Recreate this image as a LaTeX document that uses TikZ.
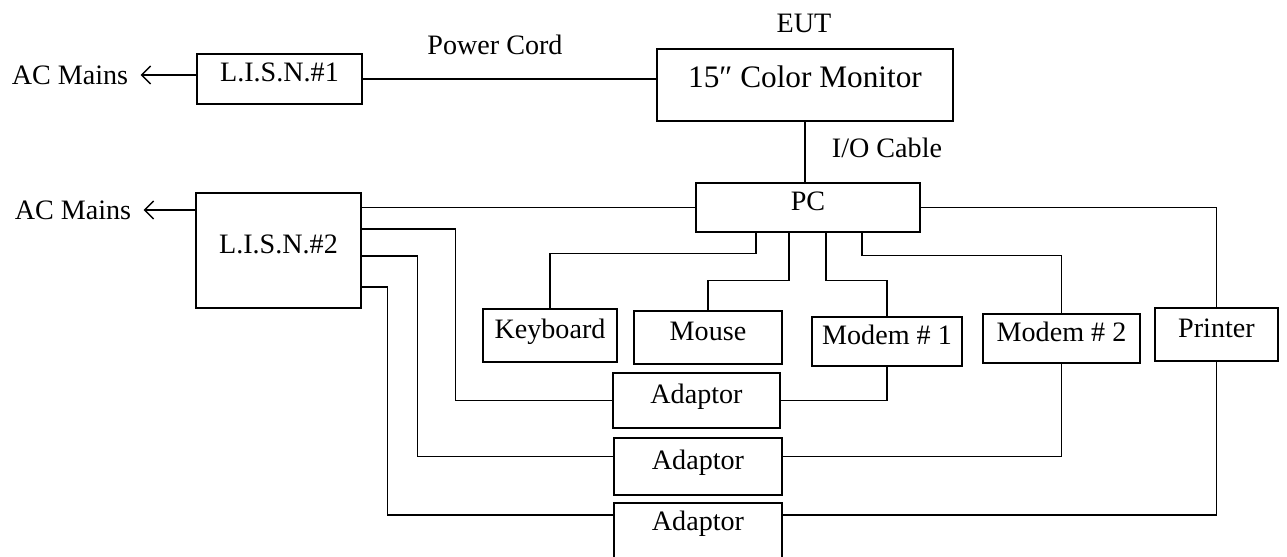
\documentclass[tikz,border=0pt]{standalone}
\usepackage{fontspec}
\setmainfont{Liberation Serif}
\usetikzlibrary{arrows.meta}

\begin{document}
\begin{tikzpicture}[
    every node/.style={font=\fontsize{8}{10}\selectfont},
    unit/.style={draw, line width=0.4pt, inner sep=0pt, text height=0.7em, text depth=0.55em},
    wire/.style={line width=0.4pt},
    mains/.style={wire, -{Straight Barb[length=0.9mm, width=1.8mm]}}
]

    % Fix the canvas to the proportions of the image
    \clip (0,0) rectangle (12.87,5.57);

    % Mains side: the two L.I.S.N. boxes and the AC Mains labels
    \node[unit, minimum width=1.65cm, minimum height=0.50cm] (lisn1) at (2.795,4.78) {L.I.S.N.\#1};
    \node[unit, minimum width=1.65cm, minimum height=1.15cm] (lisn2) at (2.785,3.065) {L.I.S.N.\#2};
    \node (ac1) at (0.70,4.82) {AC Mains};
    \node (ac2) at (0.73,3.47) {AC Mains};

    % The EUT and the PC
    \node (eut) at (8.04,5.34) {EUT};
    \node[unit, minimum width=2.96cm, minimum height=0.72cm, font=\fontsize{8.9}{10}\selectfont] (monitor) at (8.05,4.72) {15″ Color Monitor};
    \node[unit, minimum width=2.24cm, minimum height=0.49cm] (pc) at (8.08,3.495) {PC};

    % Peripherals in a row below the PC
    \node[unit, minimum width=1.34cm, minimum height=0.53cm] (kbd) at (5.50,2.215) {Keyboard};
    \node[unit, minimum width=1.48cm, minimum height=0.53cm] (mouse) at (7.08,2.195) {Mouse};
    \node[unit, minimum width=1.50cm, minimum height=0.49cm] (modem1) at (8.87,2.155) {Modem \# 1};
    \node[unit, minimum width=1.57cm, minimum height=0.49cm] (modem2) at (10.615,2.185) {Modem \# 2};
    \node[unit, minimum width=1.23cm, minimum height=0.53cm] (printer) at (12.165,2.225) {Printer};

    % The three adaptors, the last one runs off the bottom edge
    \node[unit, minimum width=1.67cm, minimum height=0.55cm] (adapt1) at (6.965,1.565) {Adaptor};
    \node[unit, minimum width=1.68cm, minimum height=0.57cm] (adapt2) at (6.98,0.905) {Adaptor};
    \node[unit, minimum width=1.68cm, minimum height=0.60cm, text depth=0.82em] (adapt3) at (6.98,0.24) {Adaptor};

    % Cable labels
    \node (cord) at (4.95,5.12) {Power Cord};
    \node (io) at (8.87,4.09) {I/O Cable};

    % Mains arrows
    \draw[mains] (lisn1.west |- ac1.east) -- (ac1.east);
    \draw[mains] (ac2.east -| lisn2.west) -- (ac2.east);

    % Power cord and I/O cable
    \draw[wire] (lisn1.east) -- (lisn1.east -| monitor.west);
    \draw[wire] (monitor.south) -- (monitor.south |- pc.north);

    % PC to the peripherals
    \draw[wire] ([xshift=-5.2mm]pc.south) -- ++(0,-0.21) -| (kbd.north);
    \draw[wire] ([xshift=-1.9mm]pc.south) -- ++(0,-0.48) -| (mouse.north);
    \draw[wire] ([xshift=1.8mm]pc.south) -- ++(0,-0.48) -| (modem1.north);
    \draw[wire] ([xshift=5.4mm]pc.south) -- ++(0,-0.23) -| (modem2.north);
    \draw[wire] (pc.east) -| (printer.north);

    % L.I.S.N.#2 feeds the PC and the adaptors
    \draw[wire] (pc.west -| lisn2.east) -- (pc.west);
    \draw[wire] ([yshift=2.15mm]lisn2.east) -| ([xshift=-15.7mm]adapt1.west) -- (adapt1.west);
    \draw[wire] ([yshift=-0.55mm]lisn2.east) -| ([xshift=-19.6mm,yshift=1mm]adapt2.west) -- ([yshift=1mm]adapt2.west);
    \draw[wire] ([yshift=-3.65mm]lisn2.east) -| ([xshift=-22.6mm,yshift=1.8mm]adapt3.west) -- ([yshift=1.8mm]adapt3.west);

    % Adaptors back up to the modems and the printer
    \draw[wire] (modem1.south) |- (adapt1.east);
    \draw[wire] (modem2.south) |- ([yshift=1mm]adapt2.east);
    \draw[wire] (printer.south) |- ([yshift=1.8mm]adapt3.east);

\end{tikzpicture}
\end{document}
